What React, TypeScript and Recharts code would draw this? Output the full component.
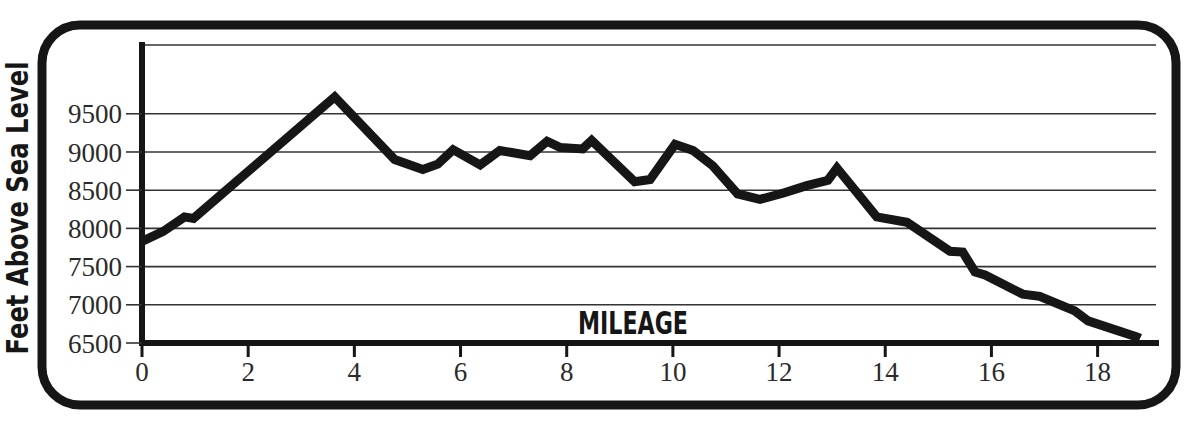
import React from 'react';
import { LineChart, Line, XAxis, YAxis, CartesianGrid } from 'recharts';

// elevation profile
const miles = [
  0, 0.4, 0.8, 0.97, 3.63, 4.76, 5.29, 5.57, 5.86, 6.37, 6.74, 7.31, 7.63, 7.87,
  8.3, 8.47, 9.28, 9.57, 10.04, 10.38, 10.75, 11.22, 11.64, 12.07, 12.52, 12.92,
  13.09, 13.84, 14.41, 15.22, 15.46, 15.69, 15.88, 16.59, 16.91, 17.57, 17.82,
  18.74, 18.8,
];
const feet = [
  7830, 7960, 8150, 8130, 9720, 8900, 8770, 8840, 9030, 8830, 9020, 8950, 9140,
  9060, 9040, 9150, 8610, 8640, 9100, 9020, 8820, 8450, 8380, 8460, 8560, 8630,
  8790, 8150, 8080, 7700, 7690, 7430, 7390, 7140, 7110, 6920, 6790, 6580, 6560,
];
const xTicks = [0, 2, 4, 6, 8, 10, 12, 14, 16, 18];
const yTicks = [6500, 7000, 7500, 8000, 8500, 9000, 9500];

const data = miles.map((m, i) => ({ mile: m, elev: feet[i] }));

const INK = '#161616';
const tickFont = {
  fontFamily: '"Liberation Serif", "DejaVu Serif", serif',
  fontSize: 27,
  fill: '#2a2a2a',
};
const boldFont = {
  fontFamily: '"Liberation Sans Narrow", "DejaVu Sans Condensed", sans-serif',
  fontWeight: 700,
  fill: INK,
};

export default function App() {
  return (
    <div
      style={{
        position: 'absolute',
        left: 0,
        top: 0,
        width: 1200,
        height: 429,
        background: '#fff',
      }}
    >
      <LineChart
        width={1200}
        height={429}
        data={data}
        margin={{ top: 45, right: 44, left: 62, bottom: 46 }}
      >
        <CartesianGrid
          vertical={false}
          stroke="#333"
          strokeWidth={1.6}
          strokeOpacity={1}
        />
        <XAxis
          type="number"
          dataKey="mile"
          domain={[0, 19.1]}
          ticks={xTicks}
          height={40}
          tickSize={14}
          tickMargin={5}
          tick={tickFont}
          axisLine={{ stroke: INK, strokeWidth: 6, strokeLinecap: 'square' }}
          tickLine={{ stroke: INK, strokeWidth: 3 }}
        />
        <YAxis
          type="number"
          domain={[6500, 10400]}
          ticks={yTicks}
          width={80}
          tickSize={16}
          tickMargin={4}
          tick={tickFont}
          axisLine={{ stroke: INK, strokeWidth: 6, strokeLinecap: 'square' }}
          tickLine={{ stroke: '#333', strokeWidth: 1.6 }}
        />
        <YAxis
          yAxisId="right"
          orientation="right"
          width={0}
          tick={false}
          tickLine={false}
          axisLine={{ stroke: INK, strokeWidth: 5 }}
        />
        <Line
          type="linear"
          dataKey="elev"
          stroke={INK}
          strokeWidth={9}
          dot={false}
          isAnimationActive={false}
        />
      </LineChart>
      <svg
        width={1200}
        height={429}
        style={{ position: 'absolute', left: 0, top: 0, pointerEvents: 'none' }}
      >
        <rect
          x={42}
          y={25}
          width={1134}
          height={380}
          rx={38}
          fill="none"
          stroke={INK}
          strokeWidth={9}
        />
        <text
          x={633}
          y={334}
          textAnchor="middle"
          textLength={110}
          lengthAdjust="spacingAndGlyphs"
          style={{ ...boldFont, fontSize: 32 }}
        >
          MILEAGE
        </text>
        <text
          transform="translate(28, 208) rotate(-90)"
          textAnchor="middle"
          textLength={293}
          lengthAdjust="spacingAndGlyphs"
          style={{ ...boldFont, fontSize: 30 }}
        >
          Feet Above Sea Level
        </text>
      </svg>
    </div>
  );
}
